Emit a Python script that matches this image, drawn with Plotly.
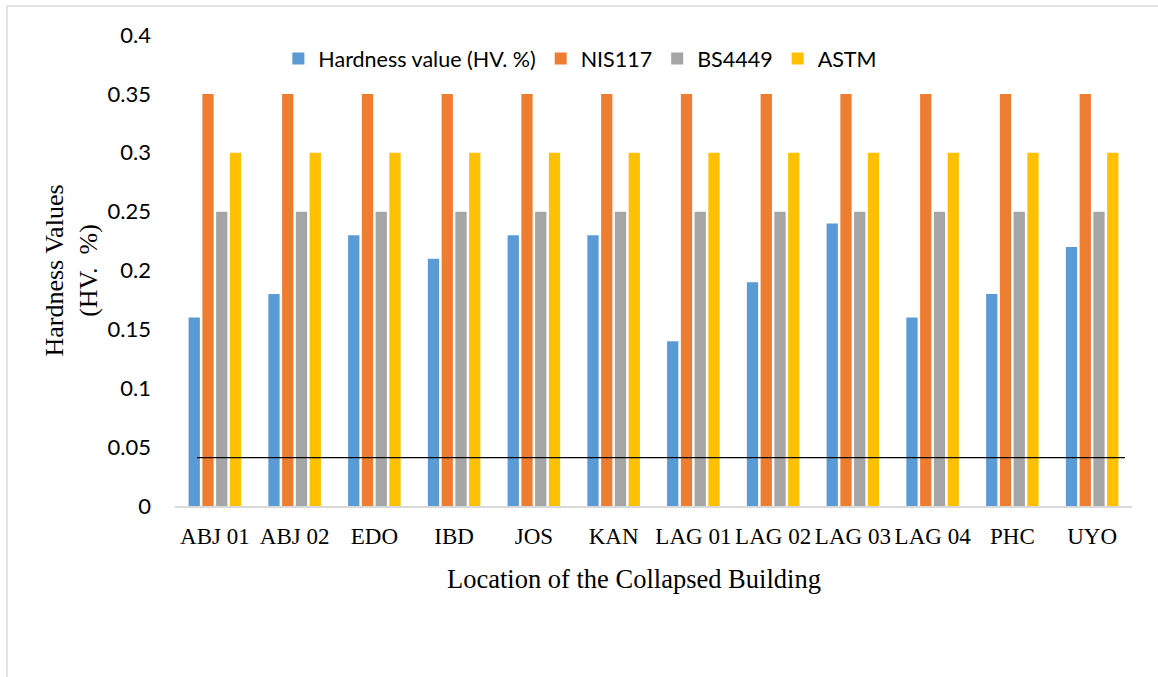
import plotly.graph_objects as go

# Building locations and hardness values
locations = ["ABJ 01", "ABJ 02", "EDO", "IBD", "JOS", "KAN",
             "LAG 01", "LAG 02", "LAG 03", "LAG 04", "PHC", "UYO"]
hardness = [0.16, 0.18, 0.23, 0.21, 0.23, 0.23, 0.14, 0.19, 0.24, 0.16, 0.18, 0.22]
nis117 = [0.35] * 12
bs4449 = [0.25] * 12
astm = [0.30] * 12
reference_level = 0.041

y_ticks = [0, 0.05, 0.1, 0.15, 0.2, 0.25, 0.3, 0.35, 0.4]
y_tick_text = ["0", "0.05", "0.1", "0.15", "0.2", "0.25", "0.3", "0.35", "0.4"]

W, H = 1158, 677
ML, MR, MT, MB = 175, 26, 35, 171
PW, PH = W - ML - MR, H - MT - MB

series = [
    ("Hardness value (HV. %)", hardness, "#5B9BD5"),
    ("NIS117", nis117, "#ED7D31"),
    ("BS4449", bs4449, "#A5A5A5"),
    ("ASTM", astm, "#FFC000"),
]

fig = go.Figure()
for name, vals, col in series:
    fig.add_trace(go.Bar(x=locations, y=vals, name=name, marker_color=col,
                         marker_line_width=0))

# horizontal reference line across the groups
fig.add_shape(type="line", xref="paper", yref="y",
              x0=(197 - ML) / PW, x1=(1125 - ML) / PW,
              y0=reference_level, y1=reference_level,
              line=dict(color="#000000", width=1.2))

# outer chart frame
fig.add_shape(type="rect", xref="paper", yref="paper",
              x0=(7 - ML) / PW, x1=(W + 5 - ML) / PW,
              y0=-(H + 5 - MT - PH) / PH, y1=(H - 6 - MB) / PH,
              line=dict(color="#D9D9D9", width=1.5), fillcolor="rgba(0,0,0,0)",
              layer="below")

# x-axis title
fig.add_annotation(text="Location of the Collapsed Building",
                   xref="paper", yref="paper",
                   x=(634 - ML) / PW, y=-(579 - MT - PH) / PH,
                   xanchor="center", yanchor="middle", showarrow=False,
                   font=dict(family="Liberation Serif", size=26.5, color="#000000"))

fig.update_layout(
    width=W, height=H,
    margin=dict(l=ML, r=MR, t=MT, b=MB),
    paper_bgcolor="white", plot_bgcolor="white",
    barmode="group", bargap=0.31, bargroupgap=0.18,
    showlegend=True,
    legend=dict(orientation="h", x=0.108, y=0.95, xanchor="left", yanchor="middle",
                font=dict(family="Lato", size=21.5, color="#000000"),
                itemwidth=30, traceorder="normal", bgcolor="rgba(0,0,0,0)"),
    xaxis=dict(
        showline=True, linecolor="#D9D9D9", linewidth=1.5,
        showgrid=False, ticks="",
        ticklabelstandoff=9,
        tickfont=dict(family="Liberation Serif", size=23, color="#000000"),
    ),
    yaxis=dict(
        range=[0, 0.4], tickvals=y_ticks, ticktext=y_tick_text,
        showline=False, showgrid=False, zeroline=False, ticks="",
        ticklabelstandoff=23,
        tickfont=dict(family="Lato", size=22, color="#000000"),
        title=dict(text="Hardness Values<br>(HV.  %)",
                   font=dict(family="Liberation Serif", size=26, color="#000000"),
                   standoff=2),
    ),
)

fig.write_html("out.html")
